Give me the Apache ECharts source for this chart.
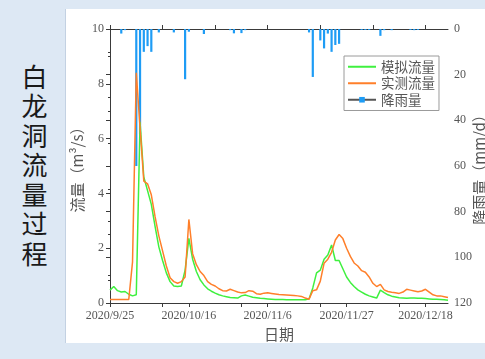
<!DOCTYPE html>
<html>
<head>
<meta charset="utf-8">
<script src="https://cdn.jsdelivr.net/npm/echarts@6/dist/echarts.min.js"></script>
<style>
  html, body { margin: 0; padding: 0; }
  body { width: 485px; height: 359px; background: #dde8f4; position: relative; overflow: hidden; }
  #panel { position: absolute; left: 65px; top: 9px; width: 420px; height: 334px; background: #fff; border-left: 1px solid #c3d1e2; }
  #title { position: absolute; left: 20px; top: 64px; writing-mode: vertical-rl; font-family: "Noto Sans CJK SC", sans-serif; font-size: 26px; letter-spacing: 3.5px; line-height: 28px; color: #1a1a1a; }
  #chart { position: absolute; left: 0; top: 0; width: 485px; height: 359px; }
</style>
</head>
<body>
<div id="panel"></div>
<div id="title">白龙洞流量过程</div>
<div id="chart"></div>
<script>
// Daily record from 2020/9/25 (day 0) to 2020/12/24 (day 90)
const startDate = new Date(2020, 8, 25);
const dayCount = 91;

// 模拟流量 (m³/s), one value per day
const simFlow = [
  0.47, 0.60, 0.45, 0.40, 0.42, 0.32, 0.26, 0.30, 6.60, 4.60,
  4.10, 3.60, 2.80, 2.05, 1.55, 1.10, 0.78, 0.62, 0.60, 0.62,
  1.20, 2.36, 1.60, 1.15, 0.85, 0.66, 0.52, 0.43, 0.36, 0.30,
  0.26, 0.23, 0.20, 0.19, 0.18, 0.26, 0.29, 0.25, 0.21, 0.19,
  0.17, 0.16, 0.15, 0.14, 0.13, 0.13, 0.13, 0.12, 0.12, 0.12,
  0.12, 0.12, 0.12, 0.15, 0.55, 1.10, 1.20, 1.60, 1.75, 2.12,
  1.55, 1.55, 1.25, 0.95, 0.75, 0.60, 0.48, 0.40, 0.32, 0.26,
  0.22, 0.18, 0.47, 0.38, 0.30, 0.25, 0.22, 0.19, 0.18, 0.17,
  0.18, 0.18, 0.17, 0.17, 0.16, 0.15, 0.14, 0.14, 0.13, 0.12,
  0.10
];

// 实测流量 (m³/s), one value per day
const obsFlow = [
  0.13, 0.13, 0.13, 0.13, 0.13, 0.13, 1.50, 8.40, 6.40, 4.45,
  4.35, 3.95, 3.15, 2.45, 1.90, 1.35, 0.92, 0.78, 0.72, 0.78,
  0.95, 3.05, 1.80, 1.40, 1.15, 1.00, 0.78, 0.68, 0.62, 0.52,
  0.45, 0.44, 0.50, 0.45, 0.40, 0.37, 0.38, 0.45, 0.43, 0.34,
  0.32, 0.36, 0.37, 0.35, 0.33, 0.31, 0.30, 0.29, 0.28, 0.27,
  0.26, 0.24, 0.18, 0.14, 0.45, 0.48, 0.80, 1.45, 1.60, 1.85,
  2.30, 2.50, 2.35, 2.00, 1.70, 1.46, 1.35, 1.18, 1.12, 0.95,
  0.72, 0.60, 0.68, 0.48, 0.42, 0.39, 0.37, 0.35, 0.40, 0.50,
  0.47, 0.44, 0.41, 0.44, 0.50, 0.40, 0.30, 0.26, 0.26, 0.23,
  0.20
];

// 降雨量 (mm/d): days with rain and their totals
const rainDays = [3, 4, 7, 8, 9, 10, 11, 13, 17, 20, 21, 25, 32, 33, 35, 36,
  53, 54, 56, 57, 58, 59, 60, 61, 67, 68, 69, 72, 73, 75, 80, 81, 82];
const rainMm = [2, 0.5, 60, 46, 10, 7.5, 10, 1.5, 1.5, 22, 1.2, 2.2, 0.5, 1.9, 1.8, 0.5,
  1.5, 21, 5, 8.5, 2, 10, 7, 6.5, 0.4, 0.4, 0.4, 3, 0.5, 0.5, 0.4, 0.5, 0.4];

// Axis marks (days from start)
const dateLabelDays = [0, 21, 42, 63, 84];
const bottomTickDays = [0, 14, 21, 35, 42, 56, 63, 77, 84];
const topTickDays = [0, 14, 28, 42, 56, 70, 84];

const seriesNames = ['模拟流量', '实测流量', '降雨量'];

function dayLabel(v) {
  const d = new Date(startDate.getTime());
  d.setDate(d.getDate() + Math.round(v));
  return d.getFullYear() + '/' + (d.getMonth() + 1) + '/' + d.getDate();
}

const days = Array.from({ length: dayCount }, (_, i) => i);
const simData = days.map(i => [i, simFlow[i]]);
const obsData = days.map(i => [i, obsFlow[i]]);
const rainData = rainDays.map((d, i) => [d, rainMm[i]]);

const serif = '"Liberation Serif", "DejaVu Serif", serif';
const cjk = '"Noto Sans CJK SC", sans-serif';
const axisColor = '#3a3a3a';
const labelColor = '#555';
const rainColor = '#1e9cf5';

const chart = echarts.init(document.getElementById('chart'), null, { renderer: 'canvas' });
chart.setOption({
  animation: false,
  backgroundColor: 'transparent',
  grid: { left: 110, right: 37, top: 29, bottom: 56, containLabel: false, outerBoundsMode: 'none' },
  legend: {
    orient: 'vertical',
    left: 344,
    top: 56,
    data: [
      // flow keys are plain lines, so the key symbol is hidden
      { name: seriesNames[0], itemStyle: { opacity: 0 } },
      { name: seriesNames[1], itemStyle: { opacity: 0 } },
      { name: seriesNames[2] }
    ],
    backgroundColor: '#fff',
    borderColor: '#9a9a9a',
    borderWidth: 1,
    borderRadius: 0,
    padding: [4, 4, 4, 3],
    itemWidth: 28,
    itemHeight: 7,
    itemGap: 3,
    textStyle: { fontFamily: cjk, fontSize: 13.5, color: labelColor }
  },
  xAxis: [
    {
      type: 'value', position: 'bottom', min: 0, max: 90,
      name: '日期', nameLocation: 'middle', nameGap: 24, nameMoveOverlap: false,
      nameTextStyle: { fontFamily: cjk, fontSize: 15, color: labelColor },
      axisLine: { lineStyle: { color: axisColor, width: 1 } },
      axisTick: { customValues: bottomTickDays, length: 4, lineStyle: { color: axisColor } },
      axisLabel: { customValues: dateLabelDays, formatter: dayLabel, margin: 7,
        fontFamily: serif, fontSize: 12, color: labelColor },
      splitLine: { show: false }
    },
    {
      type: 'value', position: 'top', min: 0, max: 90,
      axisLine: { lineStyle: { color: axisColor, width: 1 } },
      axisTick: { customValues: topTickDays, length: 4, lineStyle: { color: axisColor } },
      axisLabel: { show: false },
      splitLine: { show: false }
    }
  ],
  yAxis: [
    {
      type: 'value', position: 'left', min: 0, max: 10, interval: 2,
      name: '流量（m³/s）', nameLocation: 'middle', nameGap: 25, nameRotate: 90,
      nameMoveOverlap: false,
      nameTextStyle: { fontFamily: cjk, fontSize: 15, color: labelColor },
      axisLine: { show: true, lineStyle: { color: axisColor, width: 1 } },
      axisTick: { show: true, length: 4, lineStyle: { color: axisColor } },
      minorTick: { show: true, splitNumber: 2, length: 2, lineStyle: { color: axisColor } },
      axisLabel: { margin: 6, fontFamily: serif, fontSize: 12, color: labelColor },
      splitLine: { show: false }
    },
    {
      type: 'value', position: 'right', min: 0, max: 120, interval: 20, inverse: true,
      name: '降雨量（mm/d）', nameLocation: 'middle', nameGap: 24, nameRotate: 90,
      nameMoveOverlap: false,
      nameTextStyle: { fontFamily: cjk, fontSize: 15, color: labelColor },
      axisLine: { show: true, lineStyle: { color: axisColor, width: 1 } },
      axisTick: { show: true, inside: true, length: 4, lineStyle: { color: axisColor } },
      minorTick: { show: true, splitNumber: 2, length: 2, lineStyle: { color: axisColor } },
      axisLabel: { margin: 6, fontFamily: serif, fontSize: 12, color: labelColor },
      splitLine: { show: false }
    }
  ],
  series: [
    {
      // legend key for the rainfall bars: grey line with a blue square
      name: seriesNames[2], type: 'line', xAxisIndex: 0, yAxisIndex: 1, data: [],
      symbol: 'rect', symbolSize: 5,
      lineStyle: { color: '#555', width: 1.5 },
      itemStyle: { color: rainColor }
    },
    {
      name: seriesNames[0], type: 'line', xAxisIndex: 0, yAxisIndex: 0, data: simData,
      symbol: 'none', lineStyle: { color: '#3ff03f', width: 1.5 }, itemStyle: { color: '#3ff03f' }
    },
    {
      name: seriesNames[1], type: 'line', xAxisIndex: 0, yAxisIndex: 0, data: obsData,
      symbol: 'none', lineStyle: { color: '#ff7f2a', width: 1.5 }, itemStyle: { color: '#ff7f2a' }
    },
    {
      name: seriesNames[2], type: 'bar', xAxisIndex: 0, yAxisIndex: 1, data: rainData,
      barWidth: 2.2, itemStyle: { color: rainColor }
    }
  ]
});
</script>
</body>
</html>
